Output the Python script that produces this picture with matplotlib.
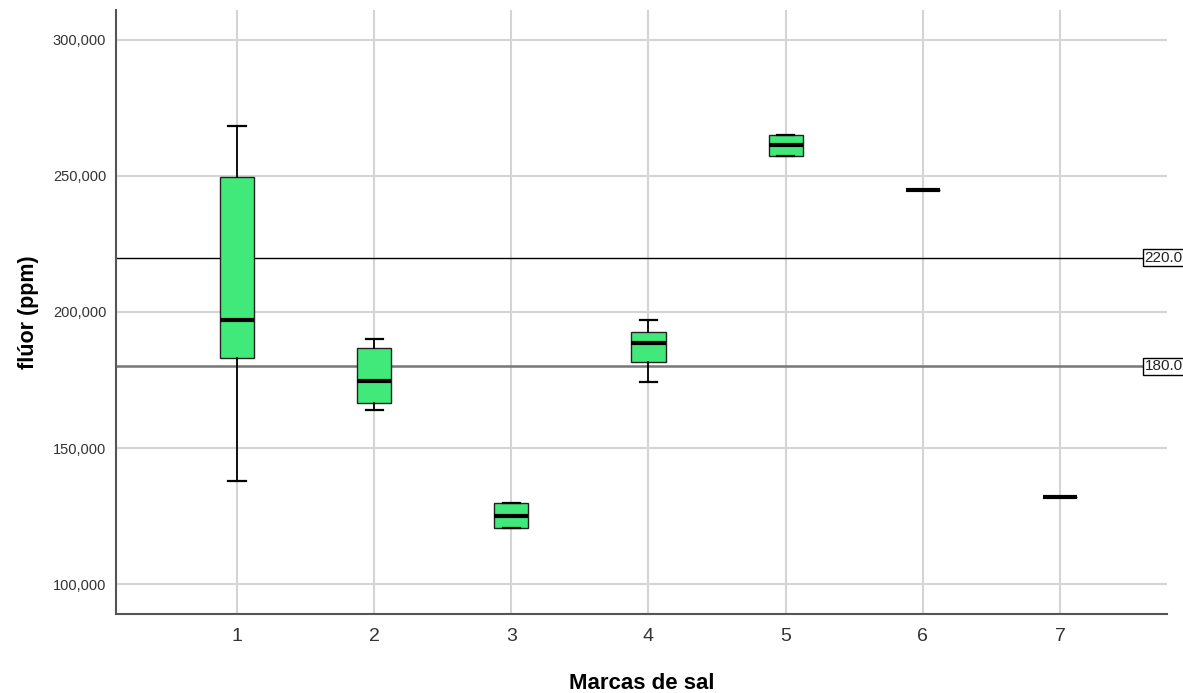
import matplotlib
matplotlib.use("Agg")
import matplotlib.pyplot as plt
from matplotlib.ticker import FuncFormatter

plt.rcParams["font.family"] = ["Liberation Sans", "DejaVu Sans"]

# data (fluor in ppm per salt brand)
marcas = [1, 2, 3, 4, 5, 6, 7]
whis_lo = [137900, 164000, 120700, 174400, 257500, 244750, 131900]
q1 = [183100, 166450, 120700, 181500, 257500, 244750, 131900]
mediana = [197100, 174650, 125100, 188500, 261500, 244750, 131900]
q3 = [249600, 186900, 129700, 192800, 265200, 244750, 131900]
whis_hi = [268400, 190100, 129700, 197100, 265200, 244750, 131900]
ref_lines = [220000, 180000]
ref_labels = ["220.0", "180.0"]

stats = []
for i in range(len(marcas)):
    stats.append({"whislo": whis_lo[i], "q1": q1[i], "med": mediana[i],
                  "q3": q3[i], "whishi": whis_hi[i], "label": str(marcas[i])})

fig = plt.figure(figsize=(11.83, 6.93), dpi=100)
ax = fig.add_axes([0.098, 0.114, 0.8885, 0.8716])

# grid
for m in marcas:
    ax.axvline(m, color="#d4d4d4", lw=1.5, zorder=0)
for t in [100000, 150000, 200000, 250000, 300000]:
    ax.axhline(t, color="#d4d4d4", lw=1.5, zorder=0)

# reference lines
ax.axhline(ref_lines[0], color="black", lw=1.0, zorder=1)
ax.axhline(ref_lines[1], color="#777777", lw=1.8, zorder=1)

ax.bxp(stats, positions=marcas, widths=0.25, showfliers=False, patch_artist=True,
       boxprops=dict(facecolor="#41e97b", edgecolor="#222222", lw=1.0),
       medianprops=dict(color="black", lw=3),
       whiskerprops=dict(color="black", lw=1.3),
       capprops=dict(color="black", lw=1.6), capwidths=0.125, zorder=3)

for v, lab in zip(ref_lines, ref_labels):
    ax.text(0.9785, v, lab, transform=ax.get_yaxis_transform(), ha="left", va="center",
            fontsize=11, color="#222222", clip_on=False, zorder=5,
            bbox=dict(boxstyle="square,pad=0.08", facecolor="white", edgecolor="black", lw=1))

ax.set_xlim(0.118, 7.78)
ax.set_ylim(89000, 311000)
ax.set_xticks(marcas)
ax.set_xticklabels([str(m) for m in marcas], fontsize=14, color="#333333")
ax.set_yticks([100000, 150000, 200000, 250000, 300000])
ax.yaxis.set_major_formatter(FuncFormatter(lambda v, p: f"{int(v):,}"))
ax.tick_params(axis="y", labelsize=10.5, colors="#333333", length=0, pad=7)
ax.tick_params(axis="x", length=0, pad=10)

for s in ["top", "right"]:
    ax.spines[s].set_visible(False)
for s in ["left", "bottom"]:
    ax.spines[s].set_color("#555555")
    ax.spines[s].set_linewidth(1.5)

ax.set_ylabel("flúor (ppm)", fontsize=15.5, fontweight="bold", labelpad=10)
ax.set_xlabel("Marcas de sal", fontsize=16, fontweight="bold", labelpad=20)

fig.savefig("out.png", dpi=100)
